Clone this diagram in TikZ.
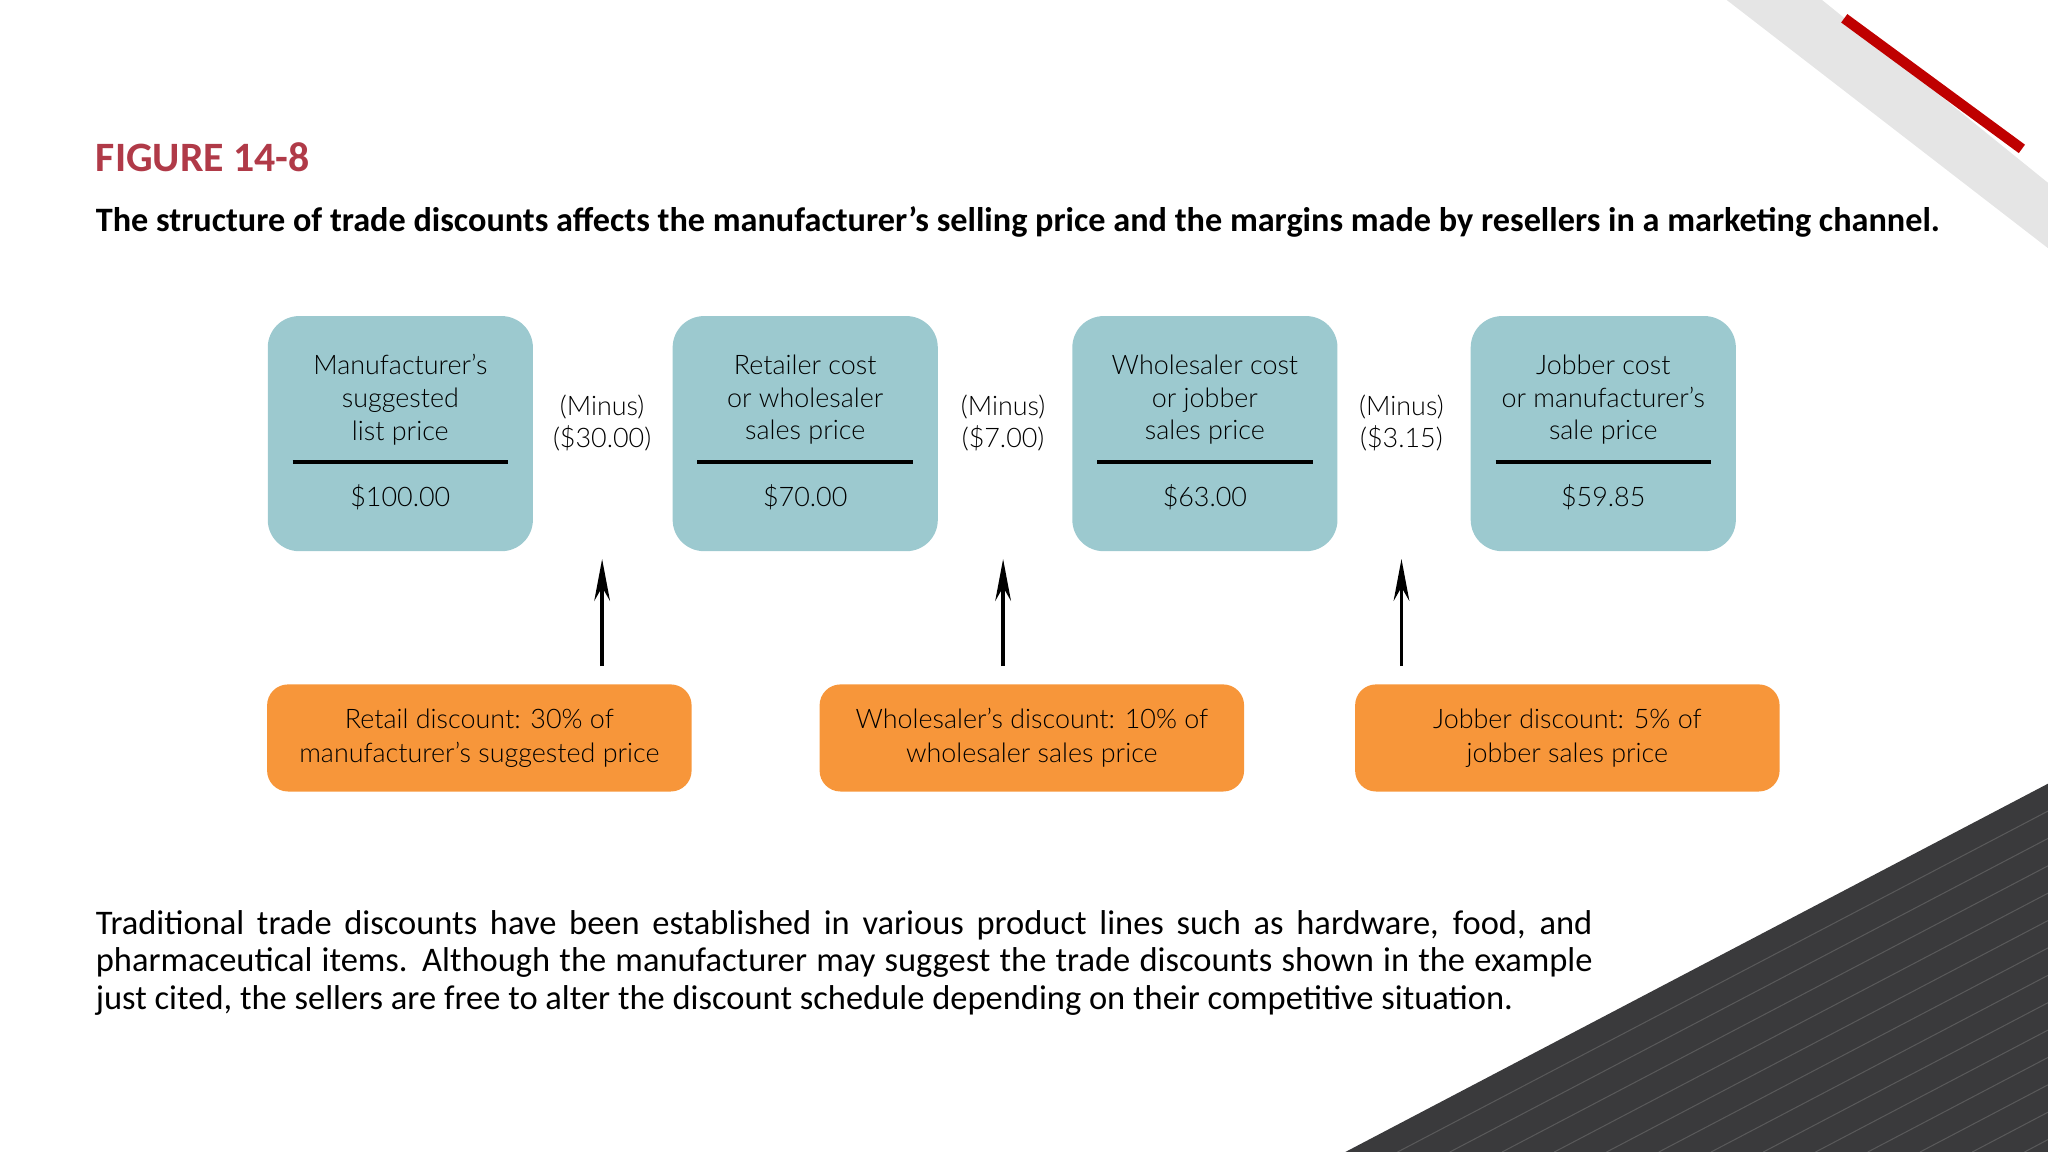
\documentclass[tikz,border=0pt]{standalone}
\usepackage{fontspec}
\setmainfont{Carlito}
\newfontfamily\boxfont{Lato Light}
\usetikzlibrary{arrows.meta}
\definecolor{boxblue}{HTML}{9CC9CF}
\definecolor{boxorange}{HTML}{F7963A}
\definecolor{titlered}{HTML}{B03A48}
\definecolor{darkband}{HTML}{3A3A3C}
\tikzset{
 bluebox/.style={fill=boxblue,rounded corners=12pt,draw=none},
 orangebox/.style={fill=boxorange,rounded corners=8pt,draw=none,minimum width=162.5pt,minimum height=41pt,align=center,font=\boxfont\fontsize{10.3}{13}\selectfont},
 boxtext/.style={align=center,font=\boxfont\fontsize{10.3}{12.5}\selectfont},
 minus/.style={align=center,font=\boxfont\fontsize{10.3}{12.5}\selectfont},
 uparrow/.style={-{Stealth[length=16pt,width=6pt]},line width=1.5pt}
}
\begin{document}
\begin{tikzpicture}[x=0.5pt,y=-0.5pt]
\useasboundingbox (0,0) rectangle (1568,882);
% decorations
\fill[gray!20] (1322,0) -- (1395,0) -- (1568,140) -- (1568,190) -- cycle;
\draw[red!75!black,line width=4pt] (1412,14) -- (1548,114);
\fill[darkband] (1030,882) -- (1568,600) -- (1568,882) -- cycle;
\foreach \d in {40,80,...,520}{
  \draw[gray!45!darkband,line width=0.4pt] ({1030+\d},882) -- (1568,{600+\d*0.524});
}
% titles
\node[anchor=west,inner sep=0pt,text=titlered,font=\bfseries\fontsize{16}{18}\selectfont] (title) at (73,120) {FIGURE 14-8};
\node[anchor=west,inner sep=0pt,font=\bfseries\fontsize{13.1}{15}\selectfont] (sub) at (73,170) {The structure of trade discounts affects the manufacturer’s selling price and the margins made by resellers in a marketing channel.};
% blue boxes
\foreach \n/\x/\a/\b/\c/\p in {b1/205/Manufacturer’s/suggested/list price/\$100.00,
  b2/515/Retailer cost/or wholesaler/sales price/\$70.00,
  b3/821/Wholesaler cost/or jobber/sales price/\$63.00,
  b4/1126/Jobber cost/or manufacturer’s/sale price/\$59.85}{
  \fill[bluebox] (\x,242) rectangle ++(203,180);
  \node[boxtext] (\n t) at ({\x+101.5},306) {\a\\\b\\\c};
  \draw[line width=1.5pt] ({\x+19},354) -- ({\x+184},354);
  \node[boxtext] (\n p) at ({\x+101.5},381) {\p};
}
\node[minus] (m1) at (461,324) {(Minus)\\(\$30.00)};
\node[minus] (m2) at (768,324) {(Minus)\\(\$7.00)};
\node[minus] (m3) at (1073,324) {(Minus)\\(\$3.15)};
% orange boxes
\node[orangebox] (o1) at (367,565) {Retail discount: 30\% of\\manufacturer’s suggested price};
\node[orangebox] (o2) at (790,565) {Wholesaler’s discount: 10\% of\\wholesaler sales price};
\node[orangebox] (o3) at (1200,565) {Jobber discount: 5\% of\\jobber sales price};
\coordinate (t1) at (461,428); \coordinate (s1) at (461,510);
\coordinate (t2) at (768,428); \coordinate (s2) at (768,510);
\coordinate (t3) at (1073,428); \coordinate (s3) at (1073,510);
\draw[uparrow] (s1) -- (t1);
\draw[uparrow] (s2) -- (t2);
\draw[uparrow] (s3) -- (t3);
% paragraph
\node[anchor=north west,text width=573pt,align=justify,font=\fontsize{13.2}{14.2}\selectfont,inner sep=0pt] (para) at (73,697) {\hyphenpenalty=10000\relax Traditional trade discounts have been established in various product lines such as hardware, food, and pharmaceutical items. Although the manufacturer may suggest the trade discounts shown in the example\linebreak just cited, the sellers are free to alter the discount schedule depending on their competitive situation.};
\end{tikzpicture}
\end{document}
